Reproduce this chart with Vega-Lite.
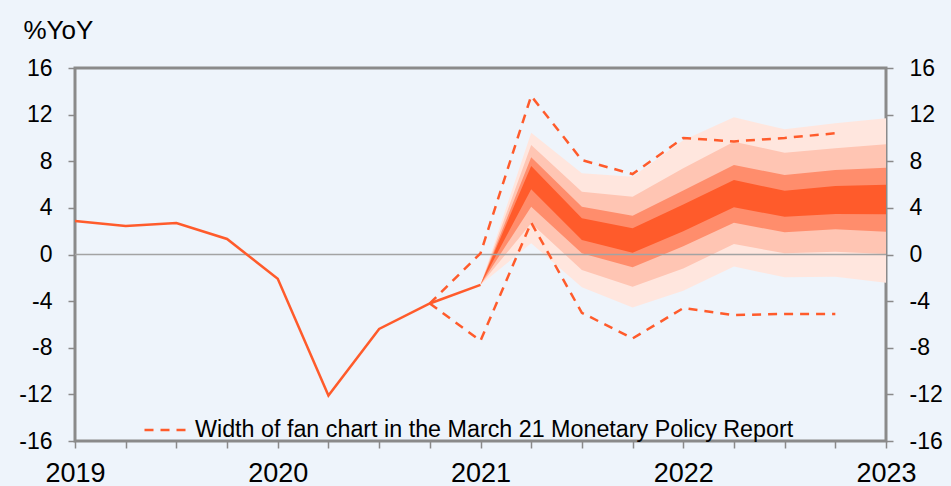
{
  "$schema": "https://vega.github.io/schema/vega-lite/v6.json",
  "autosize": "none",
  "width": 811,
  "height": 373,
  "padding": {"left": 75, "top": 68, "right": 65, "bottom": 45},
  "background": "#EEF4FB",
  "config": {
    "font": "Liberation Sans",
    "view": {"stroke": "#8A8A8A", "strokeWidth": 3},
    "axis": {"grid": false, "domain": false, "tickColor": "#8A8A8A", "tickWidth": 1.5, "tickSize": 7, "labelColor": "#000000", "labelFont": "Liberation Sans"}
  },
  "datasets": {
    "actual": [
      {"t": 2019.0, "v": 2.87},
      {"t": 2019.25, "v": 2.44},
      {"t": 2019.5, "v": 2.70},
      {"t": 2019.75, "v": 1.33},
      {"t": 2020.0, "v": -2.08},
      {"t": 2020.25, "v": -12.1},
      {"t": 2020.5, "v": -6.39},
      {"t": 2020.75, "v": -4.2},
      {"t": 2021.0, "v": -2.6}
    ],
    "fan": [
      {"t": 2021.0, "b1": -2.6, "b2": -2.6, "b3": -2.6, "b4": -2.6, "b5": -2.6, "b6": -2.6, "b7": -2.6, "b8": -2.6},
      {"t": 2021.25, "b1": 10.45, "b2": 9.39, "b3": 8.34, "b4": 7.59, "b5": 5.59, "b6": 4.10, "b7": 2.68, "b8": 0.96},
      {"t": 2021.5, "b1": 6.96, "b2": 5.39, "b3": 4.10, "b4": 3.10, "b5": 1.24, "b6": 0.10, "b7": -1.33, "b8": -2.80},
      {"t": 2021.75, "b1": 6.67, "b2": 4.96, "b3": 3.33, "b4": 2.25, "b5": 0.15, "b6": -1.10, "b7": -2.76, "b8": -4.55},
      {"t": 2022.0, "b1": 9.8, "b2": 7.4, "b3": 5.5, "b4": 4.3, "b5": 2.0, "b6": 0.7, "b7": -1.2, "b8": -3.1},
      {"t": 2022.25, "b1": 11.77, "b2": 9.68, "b3": 7.68, "b4": 6.39, "b5": 4.05, "b6": 2.73, "b7": 0.90, "b8": -1.04},
      {"t": 2022.5, "b1": 10.74, "b2": 8.73, "b3": 6.82, "b4": 5.47, "b5": 3.24, "b6": 1.90, "b7": 0.10, "b8": -1.96},
      {"t": 2022.75, "b1": 11.25, "b2": 9.11, "b3": 7.25, "b4": 5.87, "b5": 3.47, "b6": 2.16, "b7": 0.24, "b8": -1.90},
      {"t": 2023.0, "b1": 11.68, "b2": 9.45, "b3": 7.45, "b4": 5.99, "b5": 3.45, "b6": 1.96, "b7": 0.04, "b8": -2.42}
    ],
    "dashed": [
      {"t": 2020.75, "v": -4.2, "side": "upper", "label": "Width of fan chart in the March 21 Monetary Policy Report"},
      {"t": 2021.0, "v": 0.1, "side": "upper", "label": "Width of fan chart in the March 21 Monetary Policy Report"},
      {"t": 2021.25, "v": 13.6, "side": "upper", "label": "Width of fan chart in the March 21 Monetary Policy Report"},
      {"t": 2021.5, "v": 8.1, "side": "upper", "label": "Width of fan chart in the March 21 Monetary Policy Report"},
      {"t": 2021.75, "v": 6.9, "side": "upper", "label": "Width of fan chart in the March 21 Monetary Policy Report"},
      {"t": 2022.0, "v": 10.0, "side": "upper", "label": "Width of fan chart in the March 21 Monetary Policy Report"},
      {"t": 2022.25, "v": 9.7, "side": "upper", "label": "Width of fan chart in the March 21 Monetary Policy Report"},
      {"t": 2022.5, "v": 10.0, "side": "upper", "label": "Width of fan chart in the March 21 Monetary Policy Report"},
      {"t": 2022.75, "v": 10.4, "side": "upper", "label": "Width of fan chart in the March 21 Monetary Policy Report"},
      {"t": 2020.75, "v": -4.2, "side": "lower", "label": "Width of fan chart in the March 21 Monetary Policy Report"},
      {"t": 2021.0, "v": -7.4, "side": "lower", "label": "Width of fan chart in the March 21 Monetary Policy Report"},
      {"t": 2021.25, "v": 2.73, "side": "lower", "label": "Width of fan chart in the March 21 Monetary Policy Report"},
      {"t": 2021.5, "v": -5.0, "side": "lower", "label": "Width of fan chart in the March 21 Monetary Policy Report"},
      {"t": 2021.75, "v": -7.2, "side": "lower", "label": "Width of fan chart in the March 21 Monetary Policy Report"},
      {"t": 2022.0, "v": -4.6, "side": "lower", "label": "Width of fan chart in the March 21 Monetary Policy Report"},
      {"t": 2022.25, "v": -5.2, "side": "lower", "label": "Width of fan chart in the March 21 Monetary Policy Report"},
      {"t": 2022.5, "v": -5.1, "side": "lower", "label": "Width of fan chart in the March 21 Monetary Policy Report"},
      {"t": 2022.75, "v": -5.1, "side": "lower", "label": "Width of fan chart in the March 21 Monetary Policy Report"}
    ]
  },
  "layer": [
    {
      "data": {"name": "fan"},
      "mark": {"type": "area", "color": "#FFE6DE", "opacity": 1},
      "encoding": {
        "x": {"field": "t", "type": "quantitative", "scale": {"domain": [2019, 2023], "nice": false, "zero": false},
          "axis": {"orient": "bottom", "title": null, "values": [2019, 2019.25, 2019.5, 2019.75, 2020, 2020.25, 2020.5, 2020.75, 2021, 2021.25, 2021.5, 2021.75, 2022, 2022.25, 2022.5, 2022.75, 2023],
            "labelExpr": "datum.value % 1 == 0 ? format(datum.value, 'd') : ''", "labelFontSize": 27, "labelPadding": 12, "labelFlush": false, "labelOverlap": false}},
        "y": {"field": "b8", "type": "quantitative", "scale": {"domain": [-16, 16], "nice": false},
          "axis": {"orient": "left", "values": [-16, -12, -8, -4, 0, 4, 8, 12, 16], "labelExpr": "'' + datum.value", "labelFontSize": 23, "labelPadding": 16,
            "title": "%YoY", "titleAngle": 0, "titleAlign": "left", "titleBaseline": "alphabetic", "titleX": -52, "titleY": -30, "titleFontSize": 26, "titleFontWeight": "normal", "titleColor": "#000000"}},
        "y2": {"field": "b1"}
      }
    },
    {
      "data": {"name": "fan"},
      "mark": {"type": "area", "color": "#FFC5B3", "opacity": 1},
      "encoding": {
        "x": {"field": "t", "type": "quantitative"},
        "y": {"field": "b7", "type": "quantitative", "axis": null},
        "y2": {"field": "b2"}
      }
    },
    {
      "data": {"name": "fan"},
      "mark": {"type": "area", "color": "#FF8D6C", "opacity": 1},
      "encoding": {
        "x": {"field": "t", "type": "quantitative"},
        "y": {"field": "b6", "type": "quantitative", "axis": null},
        "y2": {"field": "b3"}
      }
    },
    {
      "data": {"name": "fan"},
      "mark": {"type": "area", "color": "#FF5B2B", "opacity": 1},
      "encoding": {
        "x": {"field": "t", "type": "quantitative"},
        "y": {"field": "b5", "type": "quantitative",
          "axis": {"orient": "right", "values": [-16, -12, -8, -4, 0, 4, 8, 12, 16], "labelExpr": "'' + datum.value", "labelFontSize": 23, "labelPadding": 16, "title": null}},
        "y2": {"field": "b4"}
      }
    },
    {
      "data": {"values": [{"z": 0}]},
      "mark": {"type": "rule", "color": "#A3A3A3", "strokeWidth": 1.5},
      "encoding": {"y": {"field": "z", "type": "quantitative", "axis": null}}
    },
    {
      "data": {"name": "actual"},
      "mark": {"type": "line", "color": "#FF5B2B", "strokeWidth": 2.5},
      "encoding": {
        "x": {"field": "t", "type": "quantitative"},
        "y": {"field": "v", "type": "quantitative", "axis": null}
      }
    },
    {
      "data": {"name": "dashed"},
      "mark": {"type": "line", "color": "#FF5B2B", "strokeWidth": 2.5},
      "encoding": {
        "x": {"field": "t", "type": "quantitative"},
        "y": {"field": "v", "type": "quantitative", "axis": null},
        "detail": {"field": "side"},
        "strokeDash": {"field": "label", "type": "nominal", "scale": {"range": [[9, 7]]},
          "legend": {"orient": "none", "legendX": 68, "legendY": 337, "title": null, "symbolType": "stroke", "symbolSize": 2209,
            "symbolStrokeColor": "#FF5B2B", "symbolStrokeWidth": 2.5, "labelFontSize": 23.3, "labelColor": "#000000", "labelOffset": 2, "padding": 0, "labelLimit": 1000}}
      }
    }
  ],
  "resolve": {"axis": {"y": "independent"}}
}
